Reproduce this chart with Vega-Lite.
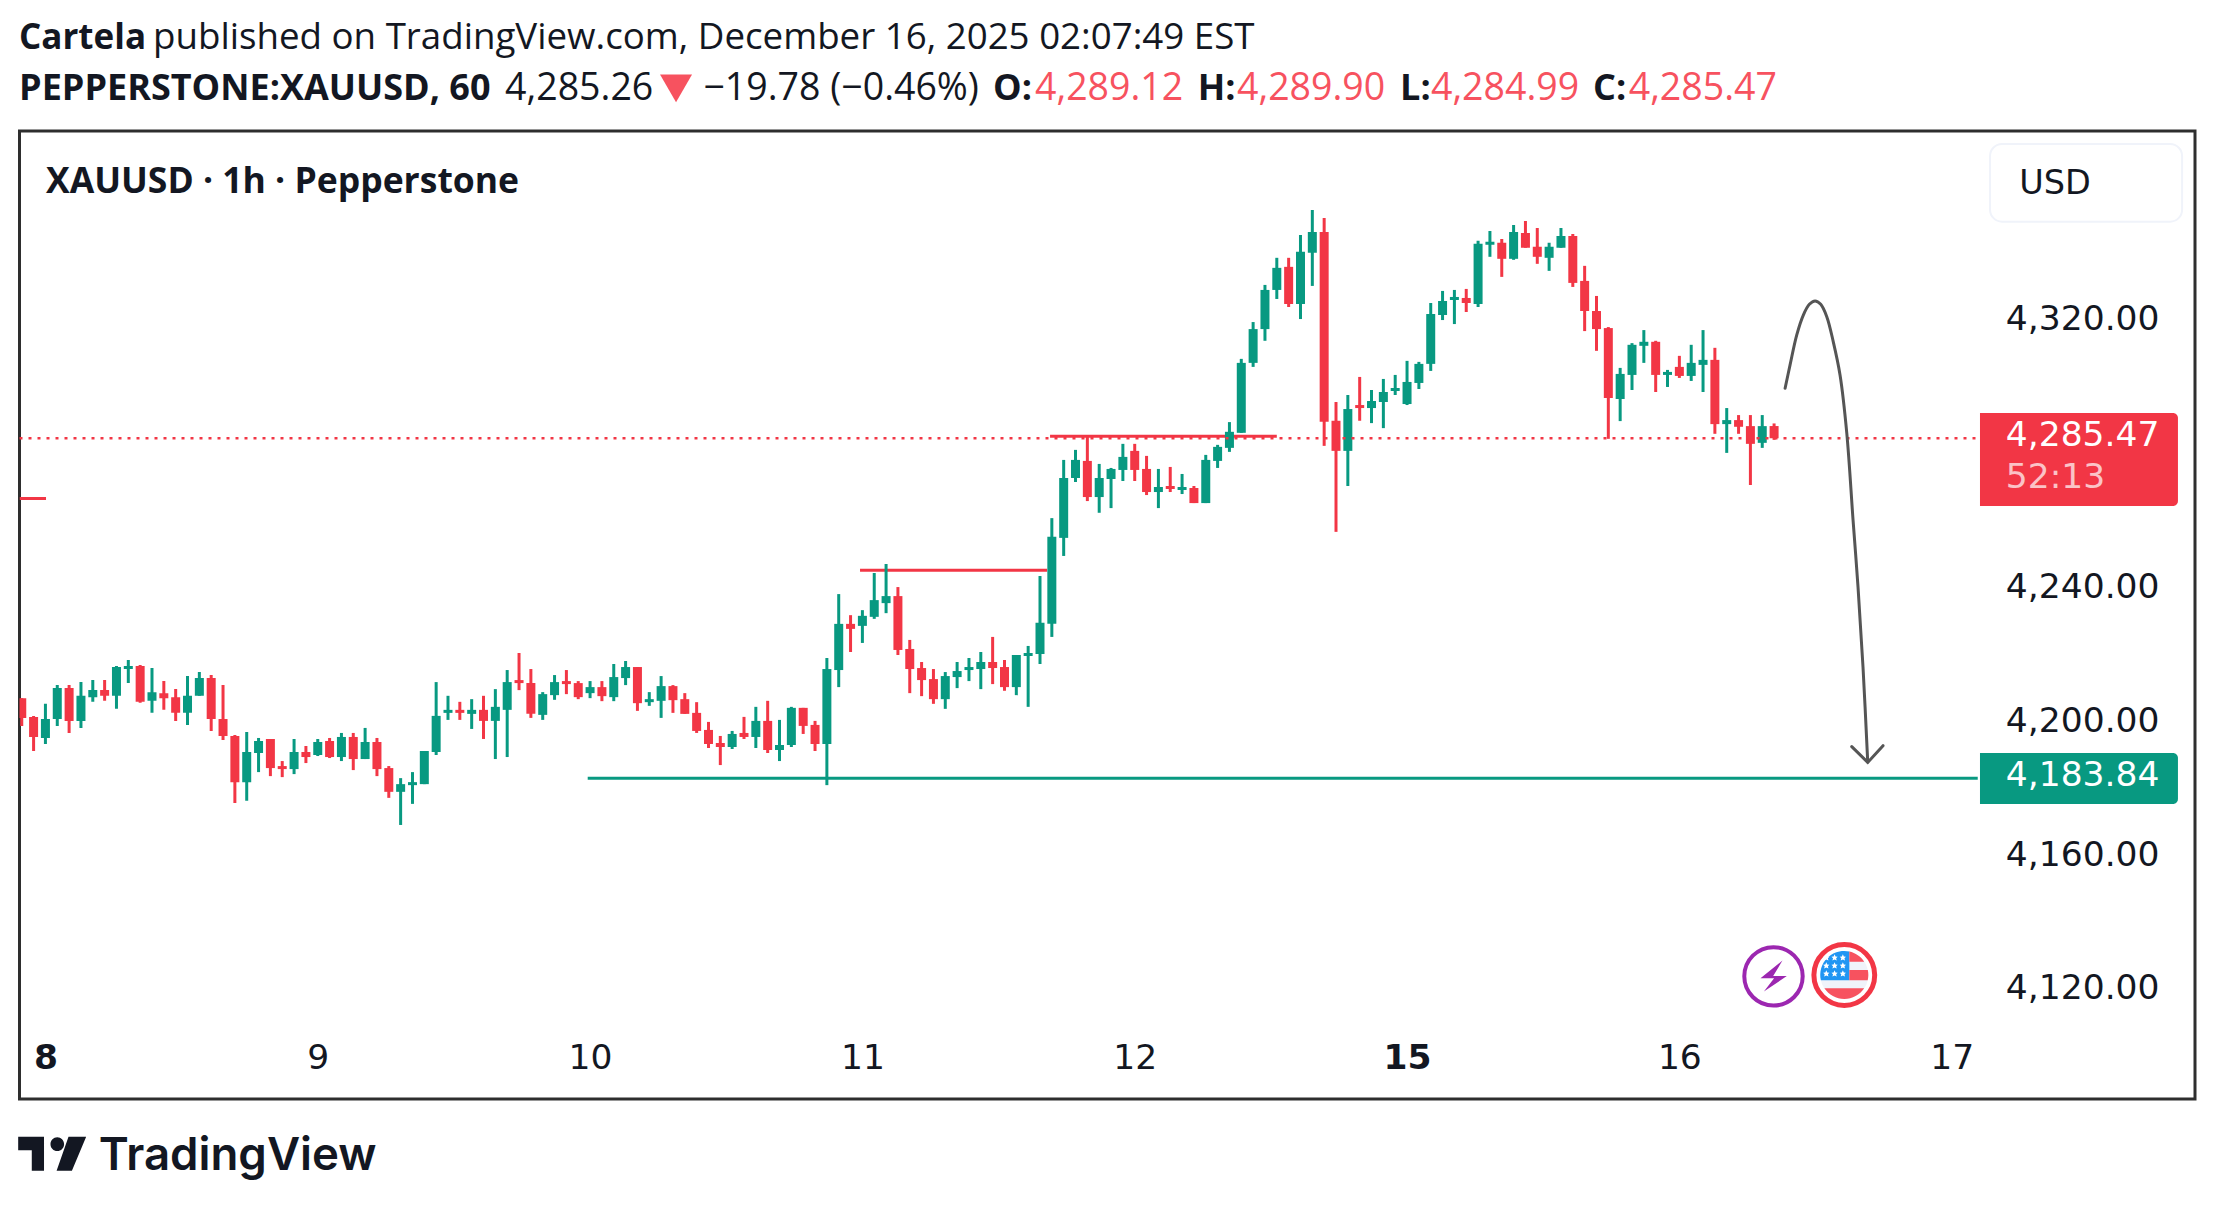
{
"$schema":"https://vega.github.io/schema/vega-lite/v6.json",
"description":"XAUUSD 1h candlestick chart from TradingView with price levels and a projected move",
"width":2175.5,"height":968,
"autosize":{"type":"none"},
"padding":{"left":19.5,"top":131,"right":19,"bottom":110},
"background":"#ffffff",
"view":{"fill":"#ffffff","stroke":"#2e2e2e","strokeWidth":3},
"data":{"values":[{}]},
"datasets":{
"candles":[
{"bar":1,"open":4207.8,"high":4207.8,"low":4199.5,"close":4201.9},
{"bar":2,"open":4202.2,"high":4202.5,"low":4192.0,"close":4196.2},
{"bar":3,"open":4195.9,"high":4206.1,"low":4194.1,"close":4201.6},
{"bar":4,"open":4201.6,"high":4211.7,"low":4199.5,"close":4210.8},
{"bar":5,"open":4210.8,"high":4211.7,"low":4197.4,"close":4201.0},
{"bar":6,"open":4201.0,"high":4212.6,"low":4198.9,"close":4208.5},
{"bar":7,"open":4208.1,"high":4213.2,"low":4206.7,"close":4210.2},
{"bar":8,"open":4210.2,"high":4213.2,"low":4207.0,"close":4208.5},
{"bar":9,"open":4208.5,"high":4217.4,"low":4204.6,"close":4217.1},
{"bar":10,"open":4216.5,"high":4219.2,"low":4212.3,"close":4217.4},
{"bar":11,"open":4217.4,"high":4217.7,"low":4206.4,"close":4206.7},
{"bar":12,"open":4207.0,"high":4216.8,"low":4203.4,"close":4209.6},
{"bar":13,"open":4209.3,"high":4212.9,"low":4204.3,"close":4207.8},
{"bar":14,"open":4208.1,"high":4210.5,"low":4201.0,"close":4203.4},
{"bar":15,"open":4203.4,"high":4214.4,"low":4199.8,"close":4208.5},
{"bar":16,"open":4208.5,"high":4215.6,"low":4208.5,"close":4213.8},
{"bar":17,"open":4213.8,"high":4214.7,"low":4198.0,"close":4201.6},
{"bar":18,"open":4201.6,"high":4211.7,"low":4195.3,"close":4196.5},
{"bar":19,"open":4196.5,"high":4196.8,"low":4176.5,"close":4182.7},
{"bar":20,"open":4182.7,"high":4197.7,"low":4177.1,"close":4191.7},
{"bar":21,"open":4191.4,"high":4195.9,"low":4185.7,"close":4195.0},
{"bar":22,"open":4195.6,"high":4195.6,"low":4184.5,"close":4186.9},
{"bar":23,"open":4187.5,"high":4189.0,"low":4184.2,"close":4186.6},
{"bar":24,"open":4186.6,"high":4195.6,"low":4185.1,"close":4191.7},
{"bar":25,"open":4191.7,"high":4193.5,"low":4188.4,"close":4190.2},
{"bar":26,"open":4190.8,"high":4195.6,"low":4190.5,"close":4194.7},
{"bar":27,"open":4195.0,"high":4195.9,"low":4189.9,"close":4190.2},
{"bar":28,"open":4190.2,"high":4197.4,"low":4189.0,"close":4196.2},
{"bar":29,"open":4196.2,"high":4197.4,"low":4186.3,"close":4189.6},
{"bar":30,"open":4189.6,"high":4198.9,"low":4189.6,"close":4194.7},
{"bar":31,"open":4194.7,"high":4195.9,"low":4184.5,"close":4186.6},
{"bar":32,"open":4186.9,"high":4187.5,"low":4178.0,"close":4179.8},
{"bar":33,"open":4179.8,"high":4183.9,"low":4169.9,"close":4182.1},
{"bar":34,"open":4181.8,"high":4185.7,"low":4176.2,"close":4182.7},
{"bar":35,"open":4182.1,"high":4192.0,"low":4182.1,"close":4192.0},
{"bar":36,"open":4191.7,"high":4212.6,"low":4190.8,"close":4202.5},
{"bar":37,"open":4203.4,"high":4208.5,"low":4201.3,"close":4204.3},
{"bar":38,"open":4204.3,"high":4206.7,"low":4201.3,"close":4203.4},
{"bar":39,"open":4203.1,"high":4207.5,"low":4198.6,"close":4204.3},
{"bar":40,"open":4204.3,"high":4208.5,"low":4195.6,"close":4201.0},
{"bar":41,"open":4201.0,"high":4210.5,"low":4189.6,"close":4205.2},
{"bar":42,"open":4204.3,"high":4216.2,"low":4190.2,"close":4212.6},
{"bar":43,"open":4213.2,"high":4221.3,"low":4210.2,"close":4212.3},
{"bar":44,"open":4212.3,"high":4216.5,"low":4201.9,"close":4203.1},
{"bar":45,"open":4202.8,"high":4209.6,"low":4201.3,"close":4209.0},
{"bar":46,"open":4208.7,"high":4214.7,"low":4207.3,"close":4212.6},
{"bar":47,"open":4212.9,"high":4216.2,"low":4209.0,"close":4212.0},
{"bar":48,"open":4212.3,"high":4212.9,"low":4207.5,"close":4208.1},
{"bar":49,"open":4209.3,"high":4212.9,"low":4207.8,"close":4211.1},
{"bar":50,"open":4211.1,"high":4212.9,"low":4206.9,"close":4208.4},
{"bar":51,"open":4208.1,"high":4218.0,"low":4206.9,"close":4214.1},
{"bar":52,"open":4213.8,"high":4218.9,"low":4211.7,"close":4217.1},
{"bar":53,"open":4217.1,"high":4217.1,"low":4204.0,"close":4206.3},
{"bar":54,"open":4206.6,"high":4209.6,"low":4205.5,"close":4207.5},
{"bar":55,"open":4207.0,"high":4214.4,"low":4201.9,"close":4211.4},
{"bar":56,"open":4211.4,"high":4211.7,"low":4203.4,"close":4207.2},
{"bar":57,"open":4207.5,"high":4209.3,"low":4203.1,"close":4203.1},
{"bar":58,"open":4203.4,"high":4206.6,"low":4197.4,"close":4198.0},
{"bar":59,"open":4198.3,"high":4200.7,"low":4192.9,"close":4194.1},
{"bar":60,"open":4194.4,"high":4196.5,"low":4187.8,"close":4193.2},
{"bar":61,"open":4193.2,"high":4198.0,"low":4192.6,"close":4197.1},
{"bar":62,"open":4197.4,"high":4202.2,"low":4195.6,"close":4196.2},
{"bar":63,"open":4196.2,"high":4205.2,"low":4192.9,"close":4201.0},
{"bar":64,"open":4201.0,"high":4207.0,"low":4191.4,"close":4192.3},
{"bar":65,"open":4192.3,"high":4201.3,"low":4189.0,"close":4193.8},
{"bar":66,"open":4193.8,"high":4205.2,"low":4193.2,"close":4204.9},
{"bar":67,"open":4204.9,"high":4204.9,"low":4197.1,"close":4199.5},
{"bar":68,"open":4199.8,"high":4201.0,"low":4192.0,"close":4194.1},
{"bar":69,"open":4194.1,"high":4219.8,"low":4181.8,"close":4216.5},
{"bar":70,"open":4216.2,"high":4238.9,"low":4211.1,"close":4230.0},
{"bar":71,"open":4230.0,"high":4232.6,"low":4221.6,"close":4228.5},
{"bar":72,"open":4229.4,"high":4234.1,"low":4224.3,"close":4232.4},
{"bar":73,"open":4232.1,"high":4245.2,"low":4231.5,"close":4237.1},
{"bar":74,"open":4236.2,"high":4247.9,"low":4233.2,"close":4238.3},
{"bar":75,"open":4238.3,"high":4241.0,"low":4220.7,"close":4222.2},
{"bar":76,"open":4222.5,"high":4225.2,"low":4209.3,"close":4216.5},
{"bar":77,"open":4216.8,"high":4218.6,"low":4208.4,"close":4213.2},
{"bar":78,"open":4213.5,"high":4216.5,"low":4206.1,"close":4207.5},
{"bar":79,"open":4207.5,"high":4215.6,"low":4204.6,"close":4214.4},
{"bar":80,"open":4214.1,"high":4218.6,"low":4210.8,"close":4215.9},
{"bar":81,"open":4216.2,"high":4219.8,"low":4212.9,"close":4217.1},
{"bar":82,"open":4216.5,"high":4221.6,"low":4210.5,"close":4218.6},
{"bar":83,"open":4218.6,"high":4226.1,"low":4212.0,"close":4216.8},
{"bar":84,"open":4217.1,"high":4219.2,"low":4210.0,"close":4211.1},
{"bar":85,"open":4211.1,"high":4220.7,"low":4208.7,"close":4220.7},
{"bar":86,"open":4220.4,"high":4223.4,"low":4205.2,"close":4221.3},
{"bar":87,"open":4221.0,"high":4244.3,"low":4218.0,"close":4230.3},
{"bar":88,"open":4230.0,"high":4261.6,"low":4226.1,"close":4256.0},
{"bar":89,"open":4255.7,"high":4279.0,"low":4250.3,"close":4273.6},
{"bar":90,"open":4273.6,"high":4282.0,"low":4272.4,"close":4279.0},
{"bar":91,"open":4278.7,"high":4286.2,"low":4266.7,"close":4267.9},
{"bar":92,"open":4267.9,"high":4277.8,"low":4263.2,"close":4273.6},
{"bar":93,"open":4273.3,"high":4276.6,"low":4264.6,"close":4276.3},
{"bar":94,"open":4276.0,"high":4283.8,"low":4272.7,"close":4279.9},
{"bar":95,"open":4281.7,"high":4283.8,"low":4272.7,"close":4276.0},
{"bar":96,"open":4276.3,"high":4280.2,"low":4268.5,"close":4269.4},
{"bar":97,"open":4269.4,"high":4276.3,"low":4264.6,"close":4270.9},
{"bar":98,"open":4271.2,"high":4276.9,"low":4269.4,"close":4270.3},
{"bar":99,"open":4270.0,"high":4274.8,"low":4268.8,"close":4270.9},
{"bar":100,"open":4270.6,"high":4271.2,"low":4266.1,"close":4266.1},
{"bar":101,"open":4266.1,"high":4280.5,"low":4266.1,"close":4279.0},
{"bar":102,"open":4278.7,"high":4283.5,"low":4276.6,"close":4282.9},
{"bar":103,"open":4282.6,"high":4290.3,"low":4281.4,"close":4287.4},
{"bar":104,"open":4287.1,"high":4309.2,"low":4287.1,"close":4308.0},
{"bar":105,"open":4308.0,"high":4320.2,"low":4306.8,"close":4318.1},
{"bar":106,"open":4318.1,"high":4331.3,"low":4314.6,"close":4329.8},
{"bar":107,"open":4329.8,"high":4339.4,"low":4327.1,"close":4336.4},
{"bar":108,"open":4336.7,"high":4339.4,"low":4324.7,"close":4325.6},
{"bar":109,"open":4325.6,"high":4346.2,"low":4321.1,"close":4341.2},
{"bar":110,"open":4340.9,"high":4353.7,"low":4331.0,"close":4347.1},
{"bar":111,"open":4347.1,"high":4351.3,"low":4283.2,"close":4290.4},
{"bar":112,"open":4290.7,"high":4296.3,"low":4257.5,"close":4281.7},
{"bar":113,"open":4281.7,"high":4298.4,"low":4271.2,"close":4294.2},
{"bar":114,"open":4295.4,"high":4303.8,"low":4290.7,"close":4294.5},
{"bar":115,"open":4294.5,"high":4299.9,"low":4290.0,"close":4296.6},
{"bar":116,"open":4296.3,"high":4303.2,"low":4288.5,"close":4299.3},
{"bar":117,"open":4299.6,"high":4304.4,"low":4298.4,"close":4300.5},
{"bar":118,"open":4295.7,"high":4308.6,"low":4295.4,"close":4302.3},
{"bar":119,"open":4302.0,"high":4308.3,"low":4300.2,"close":4307.7},
{"bar":120,"open":4307.7,"high":4325.9,"low":4305.6,"close":4322.6},
{"bar":121,"open":4322.3,"high":4329.5,"low":4320.8,"close":4326.5},
{"bar":122,"open":4326.8,"high":4329.8,"low":4319.6,"close":4327.7},
{"bar":123,"open":4327.4,"high":4330.1,"low":4323.2,"close":4325.9},
{"bar":124,"open":4325.6,"high":4344.5,"low":4324.7,"close":4343.6},
{"bar":125,"open":4343.3,"high":4347.4,"low":4339.7,"close":4344.2},
{"bar":126,"open":4343.9,"high":4345.0,"low":4333.7,"close":4339.1},
{"bar":127,"open":4339.1,"high":4349.2,"low":4338.8,"close":4347.1},
{"bar":128,"open":4346.8,"high":4350.4,"low":4342.4,"close":4342.4},
{"bar":129,"open":4342.7,"high":4348.3,"low":4337.6,"close":4339.7},
{"bar":130,"open":4339.4,"high":4343.9,"low":4335.5,"close":4342.7},
{"bar":131,"open":4342.4,"high":4348.3,"low":4342.4,"close":4345.9},
{"bar":132,"open":4345.9,"high":4346.5,"low":4330.7,"close":4331.9},
{"bar":133,"open":4332.5,"high":4337.0,"low":4317.5,"close":4323.5},
{"bar":134,"open":4323.5,"high":4328.0,"low":4311.6,"close":4318.1},
{"bar":135,"open":4318.4,"high":4318.7,"low":4285.3,"close":4297.5},
{"bar":136,"open":4297.2,"high":4306.5,"low":4290.6,"close":4304.7},
{"bar":137,"open":4304.4,"high":4313.9,"low":4299.9,"close":4313.4},
{"bar":138,"open":4313.1,"high":4317.8,"low":4308.0,"close":4314.3},
{"bar":139,"open":4314.3,"high":4314.6,"low":4299.3,"close":4304.4},
{"bar":140,"open":4304.4,"high":4305.9,"low":4300.8,"close":4305.3},
{"bar":141,"open":4306.8,"high":4310.1,"low":4303.5,"close":4304.1},
{"bar":142,"open":4304.1,"high":4313.4,"low":4302.6,"close":4308.0},
{"bar":143,"open":4307.4,"high":4317.8,"low":4299.3,"close":4308.9},
{"bar":144,"open":4308.9,"high":4312.5,"low":4286.8,"close":4289.7},
{"bar":145,"open":4289.7,"high":4294.5,"low":4281.1,"close":4290.9},
{"bar":146,"open":4290.9,"high":4292.4,"low":4286.8,"close":4288.9},
{"bar":147,"open":4289.1,"high":4292.4,"low":4271.5,"close":4283.8},
{"bar":148,"open":4284.1,"high":4292.4,"low":4282.6,"close":4289.1},
{"bar":149,"open":4289.12,"high":4289.9,"low":4284.99,"close":4285.47}
],
"levels":[
{"start":0.81,"end":3.05,"price":4267.5,"side":"resistance"},
{"start":71.8,"end":87.6,"price":4246.0,"side":"resistance"},
{"start":87.85,"end":107.0,"price":4286.07,"side":"resistance"},
{"start":48.8,"end":166.2,"price":4183.84,"side":"support"}
],
"path":[
{"bar":149.93,"price":4300.4},{"bar":150.35,"price":4307.4},{"bar":150.91,"price":4316.3},
{"bar":151.47,"price":4322.3},{"bar":151.98,"price":4325.5},{"bar":152.46,"price":4326.5},
{"bar":152.94,"price":4325.5},{"bar":153.45,"price":4321.8},{"bar":154.0,"price":4314.3},
{"bar":154.57,"price":4304.4},{"bar":155.14,"price":4287.0},{"bar":155.67,"price":4261.0},
{"bar":156.09,"price":4241.0},{"bar":156.51,"price":4217.1},{"bar":156.91,"price":4188.7}
],
"arrowhead":[
{"bar":155.56,"price":4193.3},{"bar":156.91,"price":4188.6},{"bar":158.2,"price":4193.6}
]
},
"layer":[
{"data":{"name":"levels"},
"mark":{"type":"rule","strokeWidth":3,"clip":true},
"encoding":{
"x":{"field":"start","type":"quantitative","scale":{"domain":[0.81,184.55],"nice":false,"zero":false,"padding":0},
"axis":{"title":null,"domain":false,"ticks":false,"grid":false,"values":[3,26,49,72,95,118,141,164],
"labelExpr":"['8','9','10','11','12','15','16','17'][(datum.value-3)/23]",
"labelFont":"DejaVu Sans","labelFontSize":34.5,"labelColor":"#131722","labelPadding":-41,"labelBaseline":"middle",
"labelFontWeight":{"condition":{"test":"datum.value==3||datum.value==118","value":"bold"},"value":"normal"},
"labelOverlap":false,"labelFlush":false,"labelBound":false}},
"x2":{"field":"end"},
"y":{"field":"price","type":"quantitative","scale":{"domain":[4088,4377.3],"nice":false,"zero":false},
"axis":{"title":null,"orient":"right","domain":false,"ticks":false,"grid":false,"values":[4120,4160,4200,4240,4320],
"format":",.2f","labelFont":"DejaVu Sans","labelFontSize":34.5,"labelColor":"#131722","labelPadding":-36,"labelAlign":"right","labelBaseline":"middle","labelOffset":-3,
"labelOverlap":false,"labelFlush":false,"labelBound":false}},
"color":{"field":"side","type":"nominal","legend":null,"scale":{"domain":["resistance","support"],"range":["#f23645","#089981"]}}
}},
{"data":{"name":"candles"},
"encoding":{
"x":{"field":"bar","type":"quantitative"},
"color":{"condition":{"test":"datum.close<datum.open","value":"#f23645"},"value":"#089981"}
},
"layer":[
{"mark":{"type":"rule","strokeWidth":3,"clip":true},
"encoding":{"y":{"field":"low","type":"quantitative"},"y2":{"field":"high"}}},
{"mark":{"type":"bar","size":9,"orient":"vertical","clip":true},
"encoding":{"y":{"field":"open","type":"quantitative"},"y2":{"field":"close"}}}
]},
{"mark":{"type":"rule","color":"#f23645","strokeWidth":2.5,"strokeDash":[3,6]},
"encoding":{"x":{"datum":0.81,"type":"quantitative"},"x2":{"datum":166.2},"y":{"datum":4285.47,"type":"quantitative"}}},
{"data":{"name":"path"},"mark":{"type":"line","color":"#555555","strokeWidth":3,"interpolate":"catmull-rom","strokeCap":"round"},
"encoding":{"x":{"field":"bar","type":"quantitative"},"y":{"field":"price","type":"quantitative"}}},
{"data":{"name":"arrowhead"},"mark":{"type":"line","color":"#555555","strokeWidth":3,"strokeCap":"round"},
"encoding":{"x":{"field":"bar","type":"quantitative"},"y":{"field":"price","type":"quantitative"}}},

{"mark":{"type":"rect","color":"#f23645","cornerRadiusTopRight":5,"cornerRadiusBottomRight":5},
"encoding":{"x":{"datum":166.39,"type":"quantitative"},"x2":{"datum":183.11},"y":{"datum":4293.05,"type":"quantitative"},"y2":{"datum":4265.24}}},
{"mark":{"type":"rect","color":"#089981","cornerRadiusTopRight":5,"cornerRadiusBottomRight":5},
"encoding":{"x":{"datum":166.39,"type":"quantitative"},"x2":{"datum":183.11},"y":{"datum":4191.4,"type":"quantitative"},"y2":{"datum":4176.2}}},
{"mark":{"type":"rect","fill":"#ffffff","stroke":"#f0f3fa","strokeWidth":2,"cornerRadius":12},
"encoding":{"x":{"datum":167.24,"type":"quantitative"},"x2":{"datum":183.46},"y":{"datum":4373.44,"type":"quantitative"},"y2":{"datum":4350.2}}},

{"mark":{"type":"text","text":"4,285.47","font":"DejaVu Sans","fontSize":34.5,"color":"#ffffff","align":"left","baseline":"middle"},
"encoding":{"x":{"datum":168.57,"type":"quantitative"},"y":{"datum":4286.0,"type":"quantitative"}}},
{"mark":{"type":"text","text":"52:13","font":"DejaVu Sans","fontSize":34.5,"color":"#ffffff","opacity":0.7,"align":"left","baseline":"middle"},
"encoding":{"x":{"datum":168.57,"type":"quantitative"},"y":{"datum":4273.5,"type":"quantitative"}}},
{"mark":{"type":"text","text":"4,183.84","font":"DejaVu Sans","fontSize":34.5,"color":"#ffffff","align":"left","baseline":"middle"},
"encoding":{"x":{"datum":168.57,"type":"quantitative"},"y":{"datum":4184.6,"type":"quantitative"}}},
{"mark":{"type":"text","text":"USD","font":"DejaVu Sans","fontSize":33.5,"color":"#131722","align":"left","baseline":"alphabetic"},
"encoding":{"x":{"datum":169.7,"type":"quantitative"},"y":{"datum":4358.5,"type":"quantitative"}}},

{"mark":{"type":"text","text":"XAUUSD · 1h · Pepperstone","font":"Open Sans","fontWeight":"bold","fontSize":35.5,"color":"#131722","align":"left","baseline":"alphabetic"},
"encoding":{"x":{"datum":3.05,"type":"quantitative"},"y":{"datum":4358.8,"type":"quantitative"}}},

{"encoding":{"y":{"datum":4401.8,"type":"quantitative"}},
"layer":[
{"mark":{"type":"text","text":"Cartela","font":"Open Sans","fontWeight":"bold","fontSize":35,"color":"#131722","align":"left","baseline":"alphabetic"},
"encoding":{"x":{"datum":0.77,"type":"quantitative"}}},
{"mark":{"type":"text","text":"published on TradingView.com, December 16, 2025 02:07:49 EST","font":"Open Sans","fontSize":36.7,"color":"#131722","align":"left","baseline":"alphabetic"},
"encoding":{"x":{"datum":12.09,"type":"quantitative"}}}
]},
{"encoding":{"y":{"datum":4386.59,"type":"quantitative"}},
"layer":[
{"mark":{"type":"text","text":"PEPPERSTONE:XAUUSD, 60","font":"Open Sans","fontWeight":"bold","fontSize":36,"color":"#131722","align":"left","baseline":"alphabetic"},"encoding":{"x":{"datum":0.77,"type":"quantitative"}}},
{"mark":{"type":"text","text":"4,285.26","font":"Open Sans","fontSize":37.5,"color":"#131722","align":"left","baseline":"alphabetic"},"encoding":{"x":{"datum":41.82,"type":"quantitative"}}},
{"mark":{"type":"text","text":"−19.78 (−0.46%)","font":"Open Sans","fontSize":37.5,"color":"#131722","align":"left","baseline":"alphabetic"},"encoding":{"x":{"datum":58.57,"type":"quantitative"}}},
{"mark":{"type":"text","text":"O:","font":"Open Sans","fontWeight":"bold","fontSize":36,"color":"#131722","align":"left","baseline":"alphabetic"},"encoding":{"x":{"datum":83.03,"type":"quantitative"}}},
{"mark":{"type":"text","text":"4,289.12","font":"Open Sans","fontSize":37.5,"color":"#f7525f","align":"left","baseline":"alphabetic"},"encoding":{"x":{"datum":86.58,"type":"quantitative"}}},
{"mark":{"type":"text","text":"H:","font":"Open Sans","fontWeight":"bold","fontSize":36,"color":"#131722","align":"left","baseline":"alphabetic"},"encoding":{"x":{"datum":100.32,"type":"quantitative"}}},
{"mark":{"type":"text","text":"4,289.90","font":"Open Sans","fontSize":37.5,"color":"#f7525f","align":"left","baseline":"alphabetic"},"encoding":{"x":{"datum":103.64,"type":"quantitative"}}},
{"mark":{"type":"text","text":"L:","font":"Open Sans","fontWeight":"bold","fontSize":36,"color":"#131722","align":"left","baseline":"alphabetic"},"encoding":{"x":{"datum":117.41,"type":"quantitative"}}},
{"mark":{"type":"text","text":"4,284.99","font":"Open Sans","fontSize":37.5,"color":"#f7525f","align":"left","baseline":"alphabetic"},"encoding":{"x":{"datum":120.02,"type":"quantitative"}}},
{"mark":{"type":"text","text":"C:","font":"Open Sans","fontWeight":"bold","fontSize":36,"color":"#131722","align":"left","baseline":"alphabetic"},"encoding":{"x":{"datum":133.71,"type":"quantitative"}}},
{"mark":{"type":"text","text":"4,285.47","font":"Open Sans","fontSize":37.5,"color":"#f7525f","align":"left","baseline":"alphabetic"},"encoding":{"x":{"datum":136.72,"type":"quantitative"}}}
]},
{"mark":{"type":"point","shape":"triangle-down","filled":true,"size":1024,"color":"#f7525f","opacity":1},
"encoding":{"x":{"datum":56.26,"type":"quantitative"},"y":{"datum":4390.03,"type":"quantitative"}}},

{"encoding":{"x":{"datum":148.95,"type":"quantitative"},"y":{"datum":4124.66,"type":"quantitative"}},
"layer":[
{"mark":{"type":"point","shape":"circle","filled":true,"fill":"#ffffff","stroke":"#9c27b0","strokeWidth":4,"size":3411,"opacity":1}},
{"mark":{"type":"point","shape":"M.29 -.51 L-.42 .065 H.02 L-.31 .49 L.43 -.01 H-.01 Z","filled":true,"color":"#9c27b0","size":3844,"opacity":1}}
]},
{"encoding":{"x":{"datum":154.93,"type":"quantitative"},"y":{"datum":4125.05,"type":"quantitative"}},
"layer":[
{"mark":{"type":"point","shape":"circle","filled":true,"fill":"#ffffff","stroke":"#f23645","strokeWidth":5,"size":3697,"opacity":1}},
{"mark":{"type":"point","shape":"circle","filled":true,"color":"#f0f3fa","size":2304,"opacity":1}},
{"mark":{"type":"point","shape":"M.21 -.98 A1 1 0 0 0 -.975 .22 L.21 .22 Z","filled":true,"color":"#2196f3","size":2304,"opacity":1}},
{"mark":{"type":"point","shape":"M.21 -.98 A1 1 0 0 1 .83 -.556 L.21 -.556 Z M.21 -.21 L.98 -.21 A1 1 0 0 1 .975 .22 L.21 .22 Z M-.83 .556 L.83 .556 A1 1 0 0 1 -.83 .556 Z","filled":true,"color":"#f7525f","size":2304,"opacity":1}},
{"mark":{"type":"point","shape":"M-.75 -.736 m0 -.13 l.04 .09 .09 .01 -.065 .065 .025 .1 -.09 -.05 -.09 .05 .025 -.1 -.065 -.065 .09 -.01 z M-.405 -.736 m0 -.13 l.04 .09 .09 .01 -.065 .065 .025 .1 -.09 -.05 -.09 .05 .025 -.1 -.065 -.065 .09 -.01 z M-.06 -.736 m0 -.13 l.04 .09 .09 .01 -.065 .065 .025 .1 -.09 -.05 -.09 .05 .025 -.1 -.065 -.065 .09 -.01 z M-.75 -.403 m0 -.13 l.04 .09 .09 .01 -.065 .065 .025 .1 -.09 -.05 -.09 .05 .025 -.1 -.065 -.065 .09 -.01 z M-.405 -.403 m0 -.13 l.04 .09 .09 .01 -.065 .065 .025 .1 -.09 -.05 -.09 .05 .025 -.1 -.065 -.065 .09 -.01 z M-.06 -.403 m0 -.13 l.04 .09 .09 .01 -.065 .065 .025 .1 -.09 -.05 -.09 .05 .025 -.1 -.065 -.065 .09 -.01 z M-.75 -.07 m0 -.13 l.04 .09 .09 .01 -.065 .065 .025 .1 -.09 -.05 -.09 .05 .025 -.1 -.065 -.065 .09 -.01 z M-.405 -.07 m0 -.13 l.04 .09 .09 .01 -.065 .065 .025 .1 -.09 -.05 -.09 .05 .025 -.1 -.065 -.065 .09 -.01 z M-.06 -.07 m0 -.13 l.04 .09 .09 .01 -.065 .065 .025 .1 -.09 -.05 -.09 .05 .025 -.1 -.065 -.065 .09 -.01 z","filled":true,"color":"#ffffff","size":2304,"opacity":1}}
]},

{"mark":{"type":"point","shape":"M-1 -.5 H-.24 V.5 H-.6 V-.11 H-1 Z M-.05 -.286 a.2 .2 0 1 0 .4 0 a.2 .2 0 1 0 -.4 0 Z M.48 -.5 H1 L.58 .5 H.13 Z","filled":true,"color":"#131722","size":4624,"opacity":1},
"encoding":{"x":{"datum":3.57,"type":"quantitative"},"y":{"datum":4071.6,"type":"quantitative"}}},
{"mark":{"type":"text","text":"TradingView","font":"Inter","fontWeight":600,"fontSize":45.6,"color":"#131722","align":"left","baseline":"alphabetic"},
"encoding":{"x":{"datum":7.5,"type":"quantitative"},"y":{"datum":4066.9,"type":"quantitative"}}}
]
}
